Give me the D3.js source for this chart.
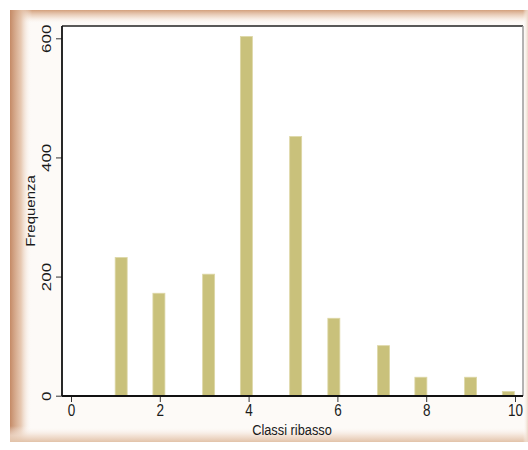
<!DOCTYPE html>
<html>
<head>
<meta charset="utf-8">
<script src="https://cdn.jsdelivr.net/npm/d3@7"></script>
<style>
  html, body { margin: 0; padding: 0; background: #ffffff; }
  svg { display: block; }
  text { font-family: "Liberation Sans", Arial, sans-serif; fill: #1a1a1a; }
</style>
</head>
<body>
<svg id="chart" width="528" height="450"></svg>
<script>
// ---- data ----
const binCenters = [1.13, 1.98, 3.10, 3.95, 5.06, 5.92, 7.04, 7.88, 9.00, 9.85];
const frequencies = [232, 172, 204, 603, 435, 130, 84, 31, 31, 7];
const xTickValues = [0, 2, 4, 6, 8, 10];
const yTickValues = [0, 200, 400, 600];
const xTitle = "Classi ribasso";
const yTitle = "Frequenza";

// ---- layout ----
const plot = { left: 62, right: 523, top: 26, bottom: 396 };
const svg = d3.select("#chart");
const defs = svg.append("defs");

function grad(id, x1, y1, x2, y2, stops) {
  const g = defs.append("linearGradient").attr("id", id)
    .attr("x1", x1).attr("y1", y1).attr("x2", x2).attr("y2", y2);
  stops.forEach(s => g.append("stop").attr("offset", s[0]).attr("stop-color", s[1]).attr("stop-opacity", s[2]));
}
grad("gTop", 0, 0, 0, 1, [[0, "#d3a07c", 1], [0.5, "#ecd3c0", 0.7], [1, "#ffffff", 0]]);
grad("gLeft", 0, 0, 1, 0, [[0, "#c48a66", 1], [0.5, "#e3c0a6", 0.85], [1, "#ffffff", 0]]);
grad("gBottom", 0, 0, 0, 1, [[0, "#ffffff", 0], [0.6, "#f0dccd", 0.8], [1, "#e2c2a8", 1]]);
grad("gRight", 0, 0, 1, 0, [[0, "#ffffff", 0], [1, "#ecd6c5", 1]]);

// frame
svg.append("rect").attr("x", 10).attr("y", 10).attr("width", 518).attr("height", 432).attr("fill", "#fdfaf7");
svg.append("rect").attr("x", 10).attr("y", 10).attr("width", 518).attr("height", 14).attr("fill", "url(#gTop)");
svg.append("rect").attr("x", 10).attr("y", 10).attr("width", 22).attr("height", 432).attr("fill", "url(#gLeft)");
svg.append("rect").attr("x", 10).attr("y", 426).attr("width", 518).attr("height", 16).attr("fill", "url(#gBottom)");
svg.append("rect").attr("x", 523).attr("y", 10).attr("width", 5).attr("height", 432).attr("fill", "url(#gRight)");

// plot area
svg.append("rect").attr("x", plot.left).attr("y", plot.top)
  .attr("width", plot.right - plot.left).attr("height", plot.bottom - plot.top)
  .attr("fill", "#ffffff");

// scales
const x = d3.scaleLinear().domain([0, 10]).range([71, 515]);
const y = d3.scaleLinear().domain([0, 600]).range([395.7, 38.3]);
const barW = 12;

// bars
svg.append("g").selectAll("rect").data(binCenters).join("rect")
  .attr("x", (d) => x(d) - barW / 2)
  .attr("y", (d, i) => y(frequencies[i]))
  .attr("width", barW)
  .attr("height", (d, i) => y(0) - y(frequencies[i]))
  .attr("fill", "#c9c17b")
  .attr("stroke", "#ddd7a6")
  .attr("stroke-width", 0.8);

// borders
svg.append("line").attr("x1", plot.left).attr("x2", plot.right).attr("y1", plot.top).attr("y2", plot.top)
  .attr("stroke", "#222").attr("stroke-width", 1.5);
svg.append("line").attr("x1", plot.right).attr("x2", plot.right).attr("y1", plot.top).attr("y2", plot.bottom)
  .attr("stroke", "#9a9a9a").attr("stroke-width", 1.5);

// x axis
const xAxis = d3.axisBottom(x).tickValues(xTickValues).tickSize(6).tickSizeOuter(0).tickPadding(4);
const gx = svg.append("g").attr("transform", `translate(0,${plot.bottom})`).call(xAxis);
gx.select(".domain").remove();
gx.selectAll(".tick line").attr("stroke", "#333").attr("stroke-width", 1);
gx.selectAll(".tick text")
  .attr("font-size", 13.5).attr("fill", "#111")
  .attr("font-family", "'Liberation Sans', Arial, sans-serif")
  .attr("dy", null).attr("y", 0)
  .attr("transform", "translate(0,20) scale(1,1.25)");
svg.append("line").attr("x1", plot.left).attr("x2", plot.right).attr("y1", plot.bottom).attr("y2", plot.bottom)
  .attr("stroke", "#111").attr("stroke-width", 1.8);

// y axis
const yAxis = d3.axisLeft(y).tickValues(yTickValues).tickSize(6).tickSizeOuter(0);
const gy = svg.append("g").attr("transform", `translate(${plot.left},0)`).call(yAxis);
gy.select(".domain").remove();
gy.selectAll(".tick line").attr("stroke", "#333").attr("stroke-width", 1);
gy.selectAll(".tick text")
  .attr("font-size", 13).attr("fill", "#111")
  .attr("font-family", "'Liberation Sans', Arial, sans-serif")
  .attr("x", 0).attr("dy", null).attr("text-anchor", "middle")
  .attr("transform", "translate(-11,0) rotate(-90) scale(1.3,1)");
svg.append("line").attr("x1", plot.left).attr("x2", plot.left).attr("y1", plot.top).attr("y2", plot.bottom)
  .attr("stroke", "#111").attr("stroke-width", 1.8);

// titles
svg.append("text").attr("text-anchor", "middle")
  .attr("transform", `translate(292,435) scale(0.95,1.15)`)
  .attr("font-size", 13.5).text(xTitle);
svg.append("text").attr("text-anchor", "middle")
  .attr("transform", `translate(35,211) rotate(-90) scale(1.25,1)`)
  .attr("font-size", 12).text(yTitle);
</script>
</body>
</html>
